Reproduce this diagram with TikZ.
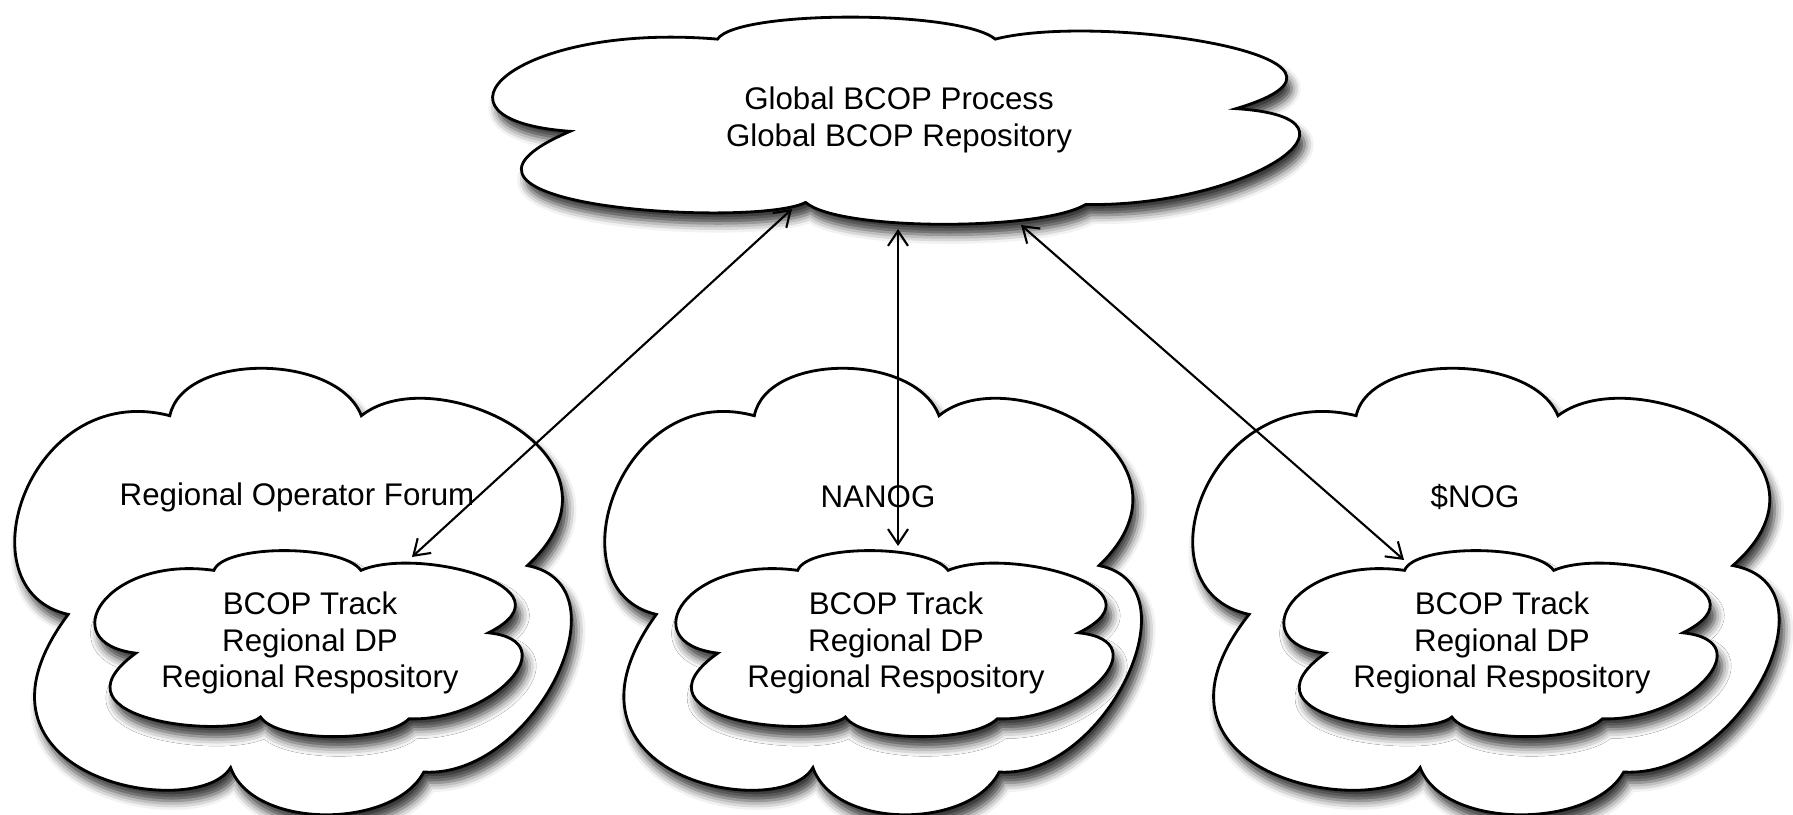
\documentclass[tikz,border=0pt]{standalone}
\usepackage{fontspec}
\setmainfont{Liberation Sans}
\usetikzlibrary{shadows.blur,arrows.meta,backgrounds}

% one cloud outline in a unit box, stretched by the x and y vectors
\newcommand{\cloudoutline}{(-0.81,-0.11)
  .. controls (-1.2,0.0) and (-0.95,0.95) .. (-0.447,0.785)
  .. controls (-0.4,1.07) and (0.15,1.07) .. (0.237,0.785)
  .. controls (0.5,1.05) and (1.25,0.6) .. (0.83,0.11)
  .. controls (1.2,0.02) and (0.85,-0.85) .. (0.46,-0.82)
  .. controls (0.35,-1.08) and (-0.15,-1.08) .. (-0.23,-0.8)
  .. controls (-0.35,-1.05) and (-1.25,-0.85) .. cycle}

\begin{document}
\begin{tikzpicture}[
    % Styles for the clouds, their texts and the links
    cloud_line/.style={draw=black, thick, fill=white,
      blur shadow={shadow xshift=1.4pt, shadow yshift=-3pt, shadow blur radius=2.6pt, shadow opacity=80}},
    cloud_text/.style={align=center, font=\fontsize{8.9}{10.3}\selectfont},
    label_style/.style={font=\fontsize{8.9}{10.3}\selectfont},
    link_style/.style={draw=black, semithick,
      {Straight Barb[length=1.5mm,width=2mm]}-{Straight Barb[length=1.5mm,width=2mm]}}
  ]

  % --- Step 1: Fix the frame of the whole picture ---
  \useasboundingbox (0,0) rectangle (17.93,8.15);

  % --- Step 2: Centres of the clouds and their texts ---
  \node[cloud_text] (global) at (8.99,6.95) {Global BCOP Process\\Global BCOP Repository};

  \coordinate (rof)   at (2.95,2.25);
  \coordinate (nanog) at (8.75,2.25);
  \coordinate (snog)  at (14.88,2.25);

  \node[label_style] (rofLabel)   at (2.97,3.18)  {Regional Operator Forum};
  \node[label_style] (nanogLabel) at (8.78,3.18)  {NANOG};
  \node[label_style] (snogLabel)  at (14.75,3.18) {\$NOG};

  \node[cloud_text] (rofTrack)   at (3.10,1.72)  {BCOP Track\\Regional DP\\Regional Respository};
  \node[cloud_text] (nanogTrack) at (8.96,1.72)  {BCOP Track\\Regional DP\\Regional Respository};
  \node[cloud_text] (snogTrack)  at (15.02,1.72) {BCOP Track\\Regional DP\\Regional Respository};

  % --- Step 3: The cloud outlines, behind the texts ---
  % outer forums first, then the tracks lying on them
  \begin{scope}[on background layer]
    \foreach \cname/\hw/\hh in {global/4.06cm/1.03cm,
        rof/2.8cm/2.22cm, nanog/2.7cm/2.22cm, snog/2.95cm/2.22cm,
        rofTrack/2.15cm/0.925cm, nanogTrack/2.2cm/0.925cm, snogTrack/2.18cm/0.925cm}
      \draw[cloud_line, shift={(\cname)}, x=\hw, y=\hh] \cloudoutline;
  \end{scope}

  % --- Step 4: Ends of the links on the clouds ---
  \coordinate (gLeft)  at (7.92,6.06);
  \coordinate (gMid)   at (8.98,5.86);
  \coordinate (gRight) at (10.21,5.90);
  \coordinate (rofEnd)   at (4.12,2.58);
  \coordinate (nanogEnd) at (8.98,2.69);
  \coordinate (snogEnd)  at (14.04,2.55);

  % --- Step 5: Links between the global and the regional level ---
  \draw[link_style] (gLeft) -- (rofEnd);
  \draw[link_style] (gMid) -- (nanogEnd);
  \draw[link_style] (gRight) -- (snogEnd);

\end{tikzpicture}
\end{document}
